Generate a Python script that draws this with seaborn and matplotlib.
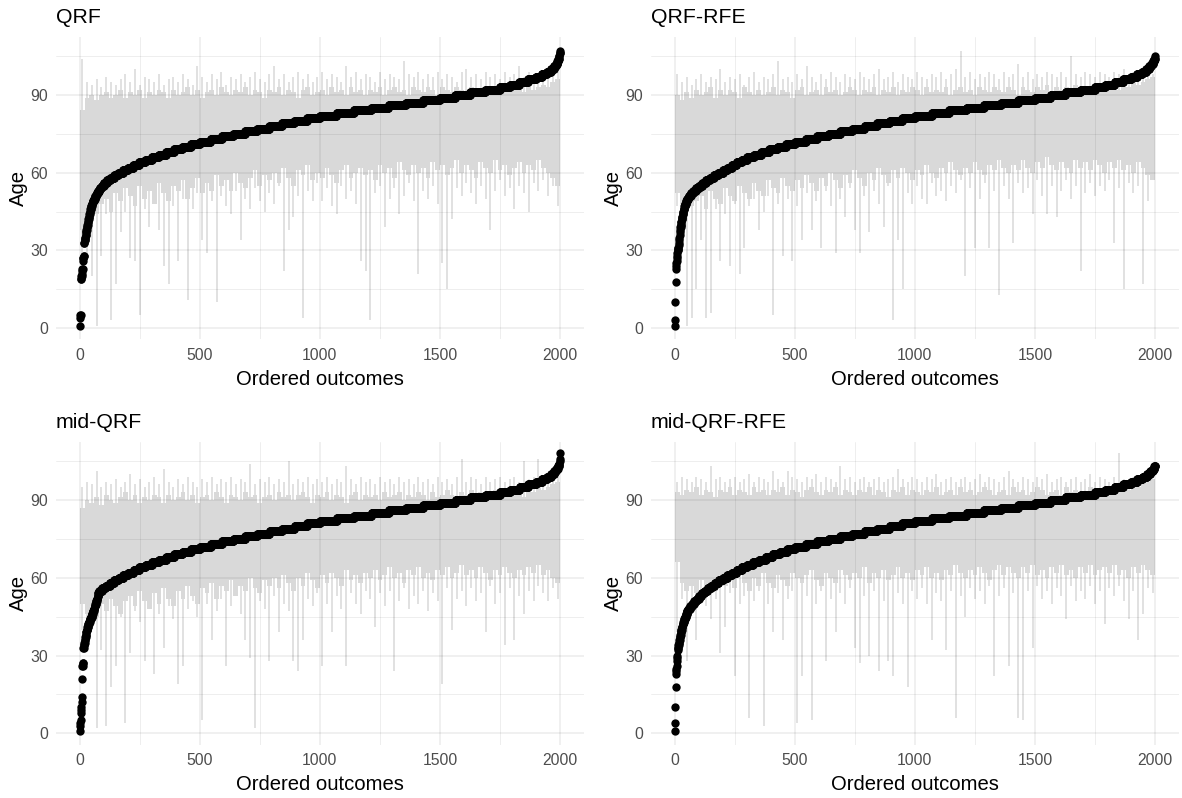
import numpy as np
import matplotlib
matplotlib.use("Agg")
import matplotlib.pyplot as plt
import seaborn as sns

# ---------------- data ----------------
# Ordered observed ages: distinct ages and how many observations have each age
qrf_age = [1, 4, 5, 19, 20, 21, 22, 23, 26, 27, 28] + list(range(33, 108))
qrf_cnt = [1, 1, 2, 2, 2, 1, 1, 2, 1, 2, 2,
           2, 2, 2, 2, 2, 2, 2, 2, 2, 2, 2, 2, 2, 3, 3,
           4, 5, 5, 6, 6, 7, 8, 9,
           13, 15, 16, 17, 19, 20,
           23, 24, 26, 27,
           29, 31, 33, 34, 36, 37,
           45, 47, 48, 49, 50, 51, 52, 52, 53, 53,
           70, 72, 72, 72, 72, 72, 70,
           64, 63, 62, 61,
           42, 39, 36, 33,
           24, 21, 17, 13,
           8, 6, 4, 3, 2, 2, 1]

rfe_age = [1, 3, 10, 18] + list(range(23, 106))
rfe_cnt = [1, 1, 1, 1,
           1, 1, 1, 1, 1, 1, 1, 2, 2, 1, 1, 1, 1, 1, 1, 1,
           2, 2, 2, 2, 2, 2, 2, 3, 3, 4, 4,
           7, 9, 10, 11, 13,
           14, 15, 16, 17, 18, 20,
           18, 19, 20, 21, 22,
           29, 31, 33, 34, 36, 37,
           45, 47, 48, 49, 50, 51, 52, 52, 53, 53,
           70, 72, 72, 72, 72, 72, 70,
           64, 63, 62, 61,
           42, 39, 36, 33,
           24, 21, 17, 13,
           9, 7, 5, 3, 1]

mid_age = [1, 3, 4, 5, 8, 9, 10, 12, 14, 21, 26, 27] + list(range(33, 107)) + [108]
mid_cnt = [1, 1, 1, 1, 1, 1, 1, 1, 1, 1, 2, 2,
           2, 2, 2, 2, 2, 2, 2, 3, 3, 3, 4, 4, 5,
           4, 4, 3, 3, 3, 3, 3, 3, 4,
           12, 15, 17, 18, 19, 19, 20,
           23, 24, 26, 27,
           29, 31, 33, 34, 36, 37,
           45, 47, 48, 49, 50, 51, 52, 52, 53, 53,
           70, 72, 72, 72, 72, 72, 70,
           64, 63, 62, 61,
           42, 39, 36, 33,
           24, 21, 17, 13,
           8, 7, 5, 2, 1, 1, 1]

mrfe_age = [1, 4, 10, 18, 23, 24, 25, 26, 28, 29, 30, 32] + list(range(33, 104))
mrfe_cnt = [1, 1, 1, 1, 1, 1, 1, 1, 1, 1, 1, 1,
            2, 2, 2, 2, 2, 2, 2, 3, 3, 3, 3, 4, 4, 4,
            6, 7, 8, 9, 10, 10,
            11, 12, 13, 14, 15, 17, 18,
            18, 19, 20, 21, 22,
            24, 26, 28, 29, 30, 31, 32,
            45, 47, 48, 49, 50, 51, 52, 52, 53, 53,
            70, 72, 72, 72, 72, 72, 70,
            64, 63, 62, 61,
            42, 39, 36, 33,
            25, 22, 18, 15, 10, 6, 4]

# Prediction intervals, summarised per block of 20 ordered outcomes:
# core = dense part of the interval band, tail = longest whisker in the block
qrf_core_lo = [38, 42, 45, 44, 48, 50, 45, 52, 49, 54, 51, 47, 55, 50, 53, 48, 56, 52, 49, 55,
               53, 57, 50, 54, 58, 52, 56, 53, 59, 55, 57, 53, 60, 56, 54, 58, 61, 55, 59, 57,
               60, 56, 62, 58, 55, 61, 59, 63, 57, 60, 58, 62, 59, 56, 61, 63, 58, 60, 62, 59,
               61, 57, 63, 60, 62, 58, 64, 61, 59, 63, 60, 62, 58, 64, 61, 63, 59, 62, 65, 60,
               63, 61, 58, 64, 62, 60, 65, 61, 63, 59, 62, 64, 60, 63, 61, 65, 62, 60, 58, 55]
qrf_core_hi = [84, 89, 90, 88, 90, 91, 89, 90, 92, 89, 91, 90, 92, 89, 91, 90, 92, 91, 89, 92,
               90, 91, 93, 90, 92, 89, 91, 92, 90, 93, 91, 90, 92, 91, 93, 90, 92, 91, 89, 92,
               91, 93, 90, 92, 91, 89, 92, 93, 90, 91, 92, 90, 93, 91, 92, 90, 93, 91, 92, 90,
               92, 91, 93, 90, 92, 93, 91, 92, 90, 93, 92, 91, 93, 92, 90, 93, 92, 91, 93, 92,
               91, 93, 92, 90, 93, 92, 91, 93, 92, 94, 92, 93, 91, 94, 92, 93, 94, 93, 95, 96]
qrf_tail_lo = [28, 29, 20, 1, 28, 44, 3, 17, 37, 45, 27, 26, 5, 46, 39, 48, 38, 24, 17, 47,
               26, 50, 11, 46, 52, 34, 29, 49, 10, 51, 47, 44, 53, 34, 50, 46, 54, 49, 45, 52,
               48, 55, 22, 38, 43, 51, 4, 53, 49, 56, 49, 54, 47, 44, 55, 50, 53, 48, 26, 22,
               3, 52, 55, 39, 50, 54, 44, 51, 56, 49, 21, 53, 50, 55, 48, 25, 15, 42, 54, 51,
               56, 52, 48, 55, 50, 38, 53, 57, 51, 54, 46, 55, 52, 45, 56, 53, 57, 51, 55, 47]
qrf_tail_hi = [104, 95, 94, 96, 93, 97, 95, 94, 96, 98, 95, 100, 94, 97, 96, 95, 98, 94, 96, 97,
               95, 98, 96, 94, 101, 97, 95, 98, 96, 99, 94, 97, 96, 98, 95, 97, 99, 96, 95, 98,
               101, 96, 98, 95, 97, 99, 96, 98, 95, 97, 99, 96, 98, 97, 95, 101, 97, 99, 96, 98,
               97, 95, 99, 96, 98, 97, 96, 103, 98, 97, 99, 96, 98, 97, 99, 96, 98, 97, 95, 99,
               100, 97, 98, 96, 99, 97, 98, 96, 99, 97, 98, 101, 97, 99, 98, 97, 99, 98, 100, 99]

rfe_core_lo = [52, 48, 45, 47, 49, 51, 46, 53, 50, 48, 54, 51, 49, 55, 52, 50, 56, 53, 51, 57,
               54, 52, 58, 55, 53, 57, 54, 59, 56, 53, 58, 55, 60, 57, 54, 59, 56, 61, 58, 55,
               60, 57, 62, 59, 56, 61, 58, 62, 60, 57, 61, 59, 63, 60, 58, 62, 60, 64, 61, 59,
               62, 60, 64, 61, 59, 63, 61, 65, 62, 60, 63, 61, 65, 62, 60, 64, 62, 66, 63, 61,
               64, 62, 60, 65, 62, 64, 61, 65, 63, 60, 64, 62, 65, 61, 63, 60, 64, 62, 59, 57]
rfe_core_hi = [90, 88, 91, 89, 92, 90, 91, 93, 89, 92, 90, 92, 91, 89, 93, 91, 90, 92, 90, 91,
               93, 90, 92, 91, 89, 92, 93, 90, 91, 92, 90, 93, 91, 92, 90, 91, 93, 92, 90, 92,
               91, 93, 90, 92, 91, 93, 90, 92, 91, 93, 92, 90, 93, 91, 92, 91, 93, 90, 92, 93,
               91, 92, 90, 93, 92, 91, 93, 92, 91, 93, 92, 90, 93, 92, 91, 93, 92, 94, 91, 93,
               92, 93, 91, 94, 92, 93, 92, 94, 93, 92, 94, 93, 92, 94, 93, 95, 94, 95, 96, 97]
rfe_tail_lo = [47, 44, 1, 4, 15, 34, 4, 6, 46, 26, 44, 24, 48, 21, 31, 47, 50, 38, 45, 51,
               5, 48, 28, 50, 26, 47, 34, 52, 38, 49, 31, 53, 47, 29, 50, 43, 54, 38, 29, 51,
               37, 53, 48, 39, 55, 3, 34, 15, 52, 48, 55, 50, 48, 56, 51, 53, 49, 55, 52, 57,
               20, 54, 31, 50, 56, 31, 53, 13, 55, 50, 33, 56, 52, 54, 44, 57, 51, 44, 55, 43,
               53, 57, 50, 55, 22, 52, 56, 51, 55, 53, 57, 33, 54, 15, 56, 52, 55, 17, 49, 58]
rfe_tail_hi = [98, 95, 97, 94, 96, 98, 95, 97, 96, 100, 95, 97, 96, 98, 94, 97, 99, 95, 97, 96,
               98, 103, 96, 97, 95, 98, 96, 101, 97, 95, 98, 96, 99, 97, 95, 98, 97, 96, 99, 97,
               96, 98, 100, 96, 97, 99, 95, 98, 97, 96, 99, 97, 96, 98, 97, 99, 96, 98, 100, 107,
               97, 99, 96, 98, 97, 99, 98, 96, 99, 97, 98, 102, 97, 99, 96, 98, 97, 99, 98, 97,
               99, 97, 105, 98, 97, 99, 98, 97, 99, 98, 97, 99, 98, 100, 98, 99, 97, 98, 99, 98]

mid_core_lo = [50, 46, 48, 45, 50, 47, 52, 49, 46, 51, 53, 49, 55, 51, 48, 54, 50, 56, 52, 49,
               55, 52, 57, 53, 50, 56, 54, 58, 52, 57, 55, 59, 53, 57, 55, 60, 56, 54, 59, 57,
               60, 56, 61, 58, 55, 60, 57, 62, 59, 56, 61, 58, 62, 60, 57, 63, 59, 61, 58, 62,
               60, 63, 59, 61, 64, 60, 62, 58, 63, 61, 64, 60, 62, 59, 63, 61, 64, 60, 62, 65,
               61, 63, 60, 64, 62, 59, 63, 61, 64, 62, 60, 63, 61, 64, 62, 65, 61, 63, 60, 58]
mid_core_hi = [87, 90, 89, 91, 88, 92, 90, 89, 91, 93, 90, 92, 89, 91, 90, 92, 91, 89, 92, 90,
               91, 93, 90, 92, 89, 91, 92, 90, 93, 91, 89, 92, 91, 90, 93, 91, 92, 89, 91, 92,
               90, 93, 91, 92, 90, 92, 93, 91, 89, 92, 91, 93, 90, 92, 91, 89, 92, 93, 90, 92,
               91, 92, 90, 93, 91, 92, 93, 90, 92, 91, 93, 92, 90, 93, 91, 92, 94, 92, 91, 93,
               92, 94, 91, 93, 92, 91, 94, 92, 93, 92, 94, 93, 91, 94, 93, 95, 94, 95, 96, 97]
mid_tail_lo = [40, 39, 44, 2, 32, 3, 18, 26, 45, 4, 31, 47, 43, 28, 48, 23, 46, 33, 49, 44,
               19, 26, 48, 51, 45, 5, 50, 36, 47, 52, 26, 49, 53, 46, 36, 29, 2, 51, 48, 28,
               53, 39, 50, 47, 28, 24, 36, 52, 49, 54, 26, 50, 39, 53, 48, 26, 54, 50, 46, 55,
               52, 41, 54, 49, 55, 24, 51, 56, 48, 53, 50, 55, 47, 54, 51, 19, 56, 40, 52, 55,
               49, 56, 51, 54, 39, 57, 50, 54, 34, 56, 36, 53, 46, 55, 51, 57, 54, 51, 56, 52]
mid_tail_hi = [95, 97, 96, 101, 95, 97, 96, 98, 95, 97, 100, 96, 98, 95, 97, 99, 96, 102, 97, 95,
               98, 96, 99, 97, 95, 98, 97, 99, 96, 98, 97, 99, 96, 98, 97, 104, 96, 98, 97, 99,
               96, 98, 97, 105, 96, 98, 97, 99, 96, 98, 97, 99, 96, 98, 97, 103, 98, 96, 99, 97,
               98, 96, 99, 97, 98, 96, 99, 97, 98, 96, 99, 97, 98, 96, 99, 97, 98, 96, 99, 106,
               97, 99, 98, 96, 99, 97, 98, 99, 97, 98, 99, 97, 105, 98, 99, 106, 98, 99, 98, 99]

mrfe_core_lo = [66, 58, 55, 57, 54, 59, 56, 58, 55, 60, 57, 59, 56, 61, 58, 55, 60, 57, 62, 58,
                56, 61, 59, 57, 62, 60, 58, 61, 63, 59, 57, 62, 60, 58, 63, 61, 59, 62, 60, 64,
                58, 62, 60, 63, 59, 61, 64, 60, 62, 59, 63, 61, 64, 60, 62, 59, 63, 61, 65, 62,
                60, 63, 61, 64, 62, 59, 63, 65, 61, 64, 62, 60, 64, 62, 65, 61, 63, 60, 64, 62,
                65, 61, 63, 60, 64, 62, 65, 61, 63, 64, 62, 65, 61, 63, 60, 64, 62, 65, 63, 61]
mrfe_core_hi = [93, 92, 94, 93, 95, 92, 94, 93, 91, 94, 93, 95, 92, 94, 93, 92, 95, 93, 94, 92,
                94, 93, 95, 92, 94, 93, 91, 94, 95, 93, 92, 94, 93, 95, 92, 94, 93, 92, 94, 93,
                95, 92, 94, 93, 91, 94, 93, 95, 92, 94, 93, 92, 94, 93, 95, 92, 93, 94, 92, 95,
                93, 94, 92, 93, 95, 94, 92, 93, 94, 92, 95, 93, 94, 92, 93, 95, 94, 92, 93, 94,
                92, 95, 93, 94, 93, 92, 95, 93, 94, 93, 95, 94, 93, 95, 94, 96, 95, 96, 97, 98]
mrfe_tail_lo = [39, 52, 28, 50, 36, 53, 49, 44, 52, 31, 41, 54, 22, 50, 53, 6, 51, 55, 3, 50,
                39, 54, 36, 52, 55, 4, 22, 53, 5, 50, 55, 28, 52, 39, 54, 50, 56, 33, 27, 53,
                30, 55, 24, 51, 28, 22, 54, 50, 18, 55, 52, 56, 50, 36, 54, 51, 32, 55, 6, 53,
                45, 56, 52, 55, 50, 57, 22, 53, 56, 26, 54, 6, 5, 55, 33, 57, 52, 55, 50, 56,
                53, 44, 57, 51, 55, 52, 57, 50, 55, 42, 56, 53, 57, 51, 44, 55, 36, 46, 56, 54]
mrfe_tail_hi = [97, 99, 98, 97, 99, 98, 97, 103, 98, 99, 97, 98, 99, 97, 98, 100, 97, 99, 98, 97,
                101, 98, 97, 101, 99, 98, 97, 99, 98, 100, 97, 99, 98, 97, 103, 98, 99, 97, 98, 99,
                97, 98, 99, 97, 98, 99, 102, 98, 97, 99, 98, 97, 99, 98, 100, 97, 98, 99, 97, 98,
                99, 97, 98, 100, 97, 99, 98, 97, 99, 101, 98, 97, 99, 98, 97, 99, 98, 100, 97, 98,
                99, 97, 98, 99, 97, 98, 100, 97, 99, 98, 97, 99, 108, 98, 97, 99, 98, 97, 99, 98]

titles = ["QRF", "QRF-RFE", "mid-QRF", "mid-QRF-RFE"]
x_ticks = [0, 500, 1000, 1500, 2000]
y_ticks = [0, 30, 60, 90]

# ---------------- style ----------------
sns.set_theme(style="white")
plt.rcParams["font.family"] = ["Liberation Sans", "DejaVu Sans"]
plt.rcParams["grid.alpha"] = 0.08

BAND = "#D9D9D9"
BLOCK = 20

fig = plt.figure(figsize=(11.82, 7.98), dpi=100)
W, H = 1182, 798
col_left = [56 / W, 651 / W]
row_bottom = [1 - 339.4 / H, 1 - 744.5 / H]
aw, ah = 528 / W, 302.3 / H

panels = [
    (qrf_age, qrf_cnt, qrf_core_lo, qrf_core_hi, qrf_tail_lo, qrf_tail_hi),
    (rfe_age, rfe_cnt, rfe_core_lo, rfe_core_hi, rfe_tail_lo, rfe_tail_hi),
    (mid_age, mid_cnt, mid_core_lo, mid_core_hi, mid_tail_lo, mid_tail_hi),
    (mrfe_age, mrfe_cnt, mrfe_core_lo, mrfe_core_hi, mrfe_tail_lo, mrfe_tail_hi),
]

for i, (age, cnt, clo, chi, tlo, thi) in enumerate(panels):
    r, c = divmod(i, 2)
    ax = fig.add_axes([col_left[c], row_bottom[r], aw, ah])
    outcomes = np.repeat(age, cnt)
    order = np.arange(1, len(outcomes) + 1)
    clo = np.array(clo, float)
    chi = np.array(chi, float)
    centers = np.arange(len(clo)) * BLOCK + BLOCK / 2

    ax.bar(centers, chi - clo, bottom=clo, width=BLOCK, color=BAND,
           linewidth=0, zorder=1)
    ax.vlines(centers, tlo, clo, colors=BAND, linewidth=1.1, zorder=1)
    ax.vlines(centers, chi, thi, colors=BAND, linewidth=1.1, zorder=1)
    sns.scatterplot(x=order, y=outcomes, color="black", s=36, linewidth=0,
                    ax=ax, zorder=3, legend=False)

    ax.set_xlim(-98.95, 2099.95)
    ax.set_ylim(-4.3, 112.3)
    ax.set_xticks(x_ticks)
    ax.set_xticks([250, 750, 1250, 1750], minor=True)
    ax.set_yticks(y_ticks)
    ax.set_yticks([15, 45, 75, 105], minor=True)
    ax.set_axisbelow(False)
    ax.grid(which="major", color="black", alpha=0.08, linewidth=1.1)
    ax.grid(which="minor", color="black", alpha=0.08, linewidth=0.6)
    for s in ax.spines.values():
        s.set_visible(False)
    ax.tick_params(which="both", length=0)
    ax.tick_params(axis="x", pad=6, labelsize=11.3, labelcolor="#4D4D4D")
    ax.tick_params(axis="y", pad=5.5, labelsize=11.3, labelcolor="#4D4D4D")
    ax.set_xlabel("Ordered outcomes", fontsize=14.6, color="black", labelpad=5)
    ax.set_ylabel("Age", fontsize=14.6, color="black", labelpad=2)
    ax.set_title(titles[i], loc="left", fontsize=15.3, color="black", pad=10)

fig.savefig("out.png", dpi=100, facecolor="white")
